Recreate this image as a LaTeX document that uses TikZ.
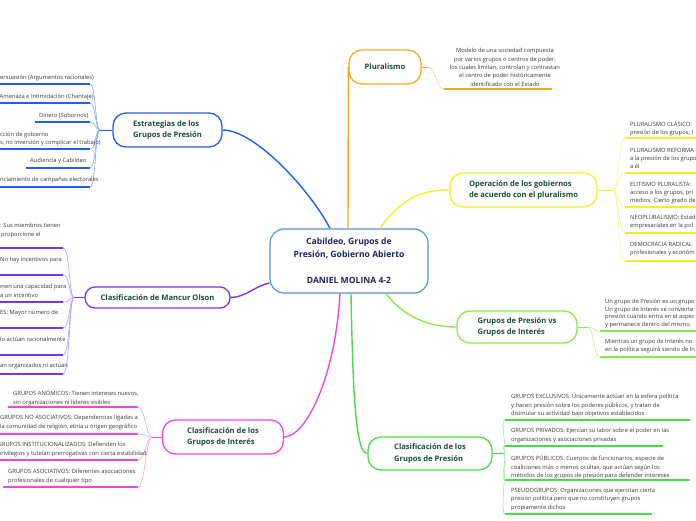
\documentclass[tikz,border=0pt]{standalone}
\usepackage{fontspec}
\setmainfont{Open Sans}
\definecolor{cblue}{RGB}{35,95,235}
\definecolor{cbluel}{RGB}{130,165,245}
\definecolor{cpurp}{RGB}{120,50,245}
\definecolor{cpurpl}{RGB}{180,150,250}
\definecolor{cmag}{RGB}{238,70,228}
\definecolor{cmagl}{RGB}{245,160,240}
\definecolor{corng}{RGB}{248,168,30}
\definecolor{corngl}{RGB}{250,205,130}
\definecolor{cyel}{RGB}{240,240,40}
\definecolor{cyell}{RGB}{245,245,130}
\definecolor{clgrn}{RGB}{140,232,70}
\definecolor{clgrnl}{RGB}{190,240,150}
\definecolor{cgrn}{RGB}{70,220,70}
\definecolor{cgrnl}{RGB}{150,235,150}
\definecolor{ccen}{RGB}{80,150,215}
\definecolor{ttl}{RGB}{25,75,60}
\definecolor{ctxt}{RGB}{55,55,55}
\definecolor{cnavy}{RGB}{25,40,85}
\begin{document}
\begin{tikzpicture}[x=1pt,y=-1pt,
  topic/.style={draw, line width=1.3pt, rounded corners=13pt, fill=white, align=left, inner sep=0pt, text=ttl, font=\fontsize{7.6}{11.5}\selectfont\bfseries},
  leaf/.style={anchor=north west, inner sep=0pt, align=left, text=ctxt, font=\fontsize{5.8}{8.3}\selectfont},
  uline/.style={line width=1.7pt},
  fan/.style={line width=0.6pt},
  mainline/.style={line width=1.4pt}]
\useasboundingbox (0,0) rectangle (696,520);
\clip (0,0) rectangle (696,520);

% ---------- topic nodes ----------
\node[draw=ccen, line width=1.2pt, rounded corners=14pt, fill=white, minimum width=158pt, minimum height=64pt, align=center, inner sep=0pt, text=cnavy, font=\fontsize{8.6}{13}\selectfont\bfseries] (cen) at (349,261) {Cabildeo, Grupos de\\Presión, Gobierno Abierto\\[13pt]DANIEL MOLINA 4-2};
\node[topic, draw=cblue, minimum width=109pt, minimum height=34pt] (estr) at (167.5,130) {Estrategias de los\\Grupos de Presión};
\node[topic, draw=cpurp, rounded corners=10pt, minimum width=145pt, minimum height=21pt] (manc) at (157.5,297.5) {Clasificación de Mancur Olson};
\node[topic, draw=cmag, minimum width=121pt, minimum height=34pt] (inte) at (223,437) {Clasificación de los\\Grupos de Interés};
\node[topic, draw=corng, minimum width=72pt, minimum height=34pt] (plu) at (385,67) {Pluralismo};
\node[topic, draw=cyel, minimum width=147pt, minimum height=34pt] (oper) at (523.5,190) {Operación de los gobiernos\\de acuerdo con el pluralismo};
\node[topic, draw=clgrn, minimum width=120pt, minimum height=32pt] (gvs) at (517,327) {Grupos de Presión vs\\Grupos de Interés};
\node[topic, draw=cgrn, minimum width=124pt, minimum height=33pt] (cpre) at (430,453.5) {Clasificación de los\\Grupos de Presión};

% ---------- main connectors ----------
\draw[mainline, cblue] (estr.east) .. controls (255,130) and (310,190) .. ([xshift=-19pt]cen.north);
\draw[mainline, corng] ([xshift=-1pt]cen.north) -- (plu.west);
\draw[mainline, cyel] ([xshift=31pt]cen.north) .. controls (400,200) and (420,190) .. (oper.west);
\draw[mainline, cpurp] ([yshift=-22pt]cen.west) .. controls (255,286) and (245,297.5) .. (manc.east);
\draw[mainline, cmag] ([xshift=-9pt]cen.south) .. controls (335,380) and (305,437) .. (inte.east);
\draw[mainline, cgrn] ([xshift=2pt]cen.south) .. controls (353,400) and (356,453.5) .. (cpre.west);
\draw[mainline, clgrn] ([xshift=37pt]cen.south) .. controls (405,318) and (430,327) .. (gvs.west);

% ---------- Estrategias leaves ----------
\coordinate (ej) at (100,130);
\draw[fan, cblue] (estr.west) -- (ej);
\foreach \yy/\xl in {84/-5,103/-5,122/35,149/-5,168/26,187/-5}{
  \draw[uline, cblue] (\xl,\yy) -- (90,\yy);
  \draw[fan, cbluel] (ej) .. controls (95,130) and (96,\yy) .. (90,\yy);
}
\node[leaf] (e1) at (0,75.2) {ersuasión (Argumentos racionales)};
\node[leaf] (e2) at (-0.5,94.2) {Amenaza e Intimidación (Chantaje)};
\node[leaf] (e3) at (39,113.2) {Dinero (Sobornos)};
\node[leaf] (e4) at (0,131.7) {cción de gobierno\\s, no inversión y complicar el trabajo)};
\node[leaf] (e5) at (30,158.2) {Audiencia y Cabildeo};
\node[leaf] (e6) at (0,177.2) {nciamiento de campañas electorales};

% ---------- Mancur Olson leaves ----------
\coordinate (mj) at (74,297.5);
\draw[fan, cpurp] (manc.west) -- (mj);
\foreach \yy in {248,275,302,328,355,374}{
  \draw[uline, cpurp] (-5,\yy) -- (63,\yy);
  \draw[fan, cpurpl] (mj) .. controls (69,297.5) and (70,\yy) .. (63,\yy);
}
\node[leaf] (m1) at (-3,223.2) {S: Sus miembros tienen\\\hspace{4pt}proporcione el};
\node[leaf] (m2) at (0,257.2) {No hay incentivos para};
\node[leaf] (m3) at (-2,284.2) {enen una capacidad para\\\hspace{2pt}a un incentivo};
\node[leaf] (m4) at (0,310.2) {ES: Mayor número de};
\node[leaf] (m5) at (0,337.2) {lo actúan racionalmente};
\node[leaf] (m6) at (0,363.2) {an organizados ni actúan};

% ---------- Interés leaves ----------
\coordinate (ij) at (152,437);
\draw[fan, cmag] (inte.west) -- (ij);
\foreach \yy/\xl in {407/8,434/-5,460/-5,487/3}{
  \draw[uline, cmag] (\xl,\yy) -- (138,\yy);
  \draw[fan, cmagl] (ij) .. controls (146,437) and (145,\yy) .. (138,\yy);
}
\node[leaf] (i1) at (13,390.2) {GRUPOS ANÓMICOS: Tienen intereses nuevos,\\sin organizaciones ni líderes visibles};
\node[leaf] (i2) at (0,415.2) {GRUPOS NO ASOCIATIVOS: Dependencias ligadas a\\la comunidad de religión, etnia u origen geográfico};
\node[leaf] (i3) at (-2.5,442.2) {GRUPOS INSTITUCIONALIZADOS: Defienden los\\privilegios y tutelan prerrogativas con cierta estabilidad};
\node[leaf] (i4) at (8,469.2) {GRUPOS ASOCIATIVOS: Diferentes asociaciones\\profesionales de cualquier tipo};

% ---------- Pluralismo leaf ----------
\coordinate (pj) at (428,67);
\draw[fan, corng] (plu.east) -- (pj);
\draw[fan, corngl] (pj) .. controls (436,67) and (436,89) .. (444,89);
\draw[uline, corng] (444,89) -- (552,89);
\node[leaf, anchor=north, align=center] (p1) at (505,48.2) {Modelo de una sociedad compuesta\\por varios grupos o centros de poder,\\los cuales limitan, controlan y contrastan\\el centro de poder históricamente\\identificado con el Estado};

% ---------- Operación leaves ----------
\coordinate (oj) at (613,190);
\draw[fan, cyel] (oper.east) -- (oj);
\foreach \yy in {138,173,207,233,261}{
  \draw[uline, cyel] (625,\yy) -- (700,\yy);
  \draw[fan, cyell] (oj) .. controls (619,190) and (618,\yy) .. (625,\yy);
}
\node[leaf, font=\fontsize{5.8}{7.8}\selectfont] (o1) at (630,121.2) {PLURALISMO CLÁSICO:\\presión de los grupos; l};
\node[leaf, font=\fontsize{5.8}{7.8}\selectfont] (o2) at (630,148.2) {PLURALISMO REFORMA\\a la presión de los grupo\\a él};
\node[leaf, font=\fontsize{5.8}{7.8}\selectfont] (o3) at (630,182.2) {ELITISMO PLURALISTA:\\acceso a los grupos, pri\\medios. Cierto grado de};
\node[leaf, font=\fontsize{5.8}{7.8}\selectfont] (o4) at (630,215.2) {NEOPLURALISMO: Estad\\empresariales en la pol};
\node[leaf, font=\fontsize{5.8}{7.8}\selectfont] (o5) at (630,242.2) {DEMOCRACIA RADICAL\\profesionales y económ};

% ---------- Grupos vs leaves ----------
\coordinate (gj) at (588,327);
\draw[fan, clgrn] (gvs.east) -- (gj);
\foreach \yy in {331,357}{
  \draw[uline, clgrn] (600,\yy) -- (700,\yy);
  \draw[fan, clgrnl] (gj) .. controls (594,327) and (593,\yy) .. (600,\yy);
}
\node[leaf, font=\fontsize{5.8}{7.5}\selectfont] (g1) at (605,299.2) {Un grupo de Presión es un grupo\\Un grupo de Interés se convierte\\presión cuando entra en el aspec\\y permanece dentro del mismo.};
\node[leaf, font=\fontsize{5.8}{8}\selectfont] (g2) at (605,339.2) {Mientras un grupo de Interés no\\en la política seguirá siendo de In};

% ---------- Clasificación Presión leaves ----------
\coordinate (cj) at (503,453.5);
\draw[fan, cgrn] (cpre.east) -- (cj);
\foreach \yy/\xr in {420/690,446/663,480/690,514/652}{
  \draw[uline, cgrn] (505,\yy) -- (\xr,\yy);
  \draw[fan, cgrnl] (cj) .. controls (509,453.5) and (499,\yy) .. (505,\yy);
}
\node[leaf] (c1) at (511,393.2) {GRUPOS EXCLUSIVOS: Únicamente actúan en la esfera política\\y hacen presión sobre los poderes públicos, y tratan de\\disimular su actividad bajo objetivos establecidos};
\node[leaf] (c2) at (511,428.2) {GRUPOS PRIVADOS: Ejercían su labor sobre el poder en las\\organizaciones y asociaciones privadas};
\node[leaf] (c3) at (511,455.2) {GRUPOS PÚBLICOS: Cuerpos de funcionarios, especie de\\coaliciones más o menos ocultas, que actúan según los\\métodos de los grupos de presión para defender intereses};
\node[leaf] (c4) at (511,488.2) {PSEUDOGRUPOS: Organizaciones que ejercitan cierta\\presión política pero que no constituyen grupos\\propiamente dichos};
\end{tikzpicture}
\end{document}
